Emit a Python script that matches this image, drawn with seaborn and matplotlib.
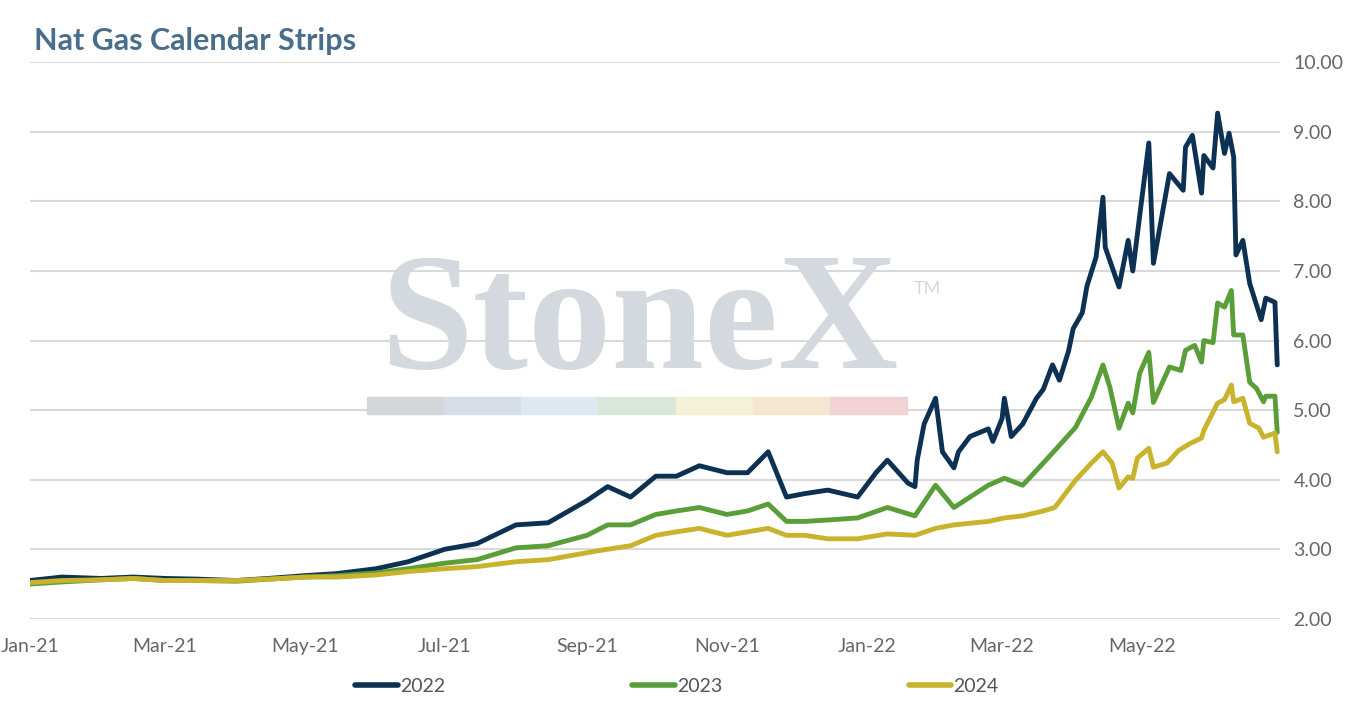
import pandas as pd
import seaborn as sb
import numpy as np
import matplotlib.pyplot as plt
import matplotlib.dates as mdates
from matplotlib.patches import Rectangle

start = pd.Timestamp("2021-01-01")

# days since 2021-01-01
days_2022 = [0, 14, 31, 45, 59, 73, 90, 104, 120, 134, 151, 165, 181, 195, 212, 226, 243, 252, 262,
             273, 282, 292, 304, 313, 322, 330, 338, 348, 361, 369, 374, 386, 383, 387, 390, 395, 398,
             403, 405, 410, 418, 420, 424, 425, 428, 433, 439, 442, 446, 449, 453, 455, 459, 461, 465,
             468, 469, 475, 479, 481, 488, 490, 497, 503, 504, 507, 511, 512, 516, 518, 521, 523, 525,
             526, 529, 532, 537, 539, 543, 544]
vals_2022 = [2.55, 2.60, 2.58, 2.60, 2.58, 2.57, 2.55, 2.58, 2.62, 2.65, 2.72, 2.82, 3.00, 3.08, 3.35,
             3.38, 3.70, 3.90, 3.75, 4.05, 4.05, 4.20, 4.10, 4.10, 4.40, 3.75, 3.80, 3.85, 3.75, 4.10,
             4.28, 3.90, 3.95, 4.28, 4.80, 5.17, 4.40, 4.17, 4.40, 4.62, 4.73, 4.55, 4.88, 5.17, 4.62,
             4.80, 5.17, 5.30, 5.65, 5.43, 5.85, 6.17, 6.40, 6.78, 7.20, 8.06, 7.34, 6.77, 7.44, 7.00,
             8.84, 7.11, 8.40, 8.16, 8.78, 8.95, 8.12, 8.66, 8.48, 9.27, 8.69, 8.98, 8.64, 7.23, 7.44,
             6.82, 6.30, 6.61, 6.55, 5.65]
days_2022, vals_2022 = zip(*sorted(zip(days_2022, vals_2022)))

days_2023 = [0, 14, 31, 45, 59, 73, 90, 104, 120, 134, 151, 165, 181, 195, 212, 226, 243, 252, 262,
             273, 282, 292, 304, 313, 322, 330, 338, 348, 361, 374, 386, 395, 403, 418, 425, 433, 442,
             447, 456, 463, 468, 471, 475, 479, 481, 484, 488, 490, 497, 502, 504, 508, 511, 512, 516,
             518, 521, 524, 525, 529, 532, 535, 538, 539, 543, 544]
vals_2023 = [2.50, 2.53, 2.56, 2.58, 2.55, 2.55, 2.54, 2.57, 2.60, 2.62, 2.66, 2.72, 2.80, 2.85, 3.02,
             3.05, 3.20, 3.35, 3.35, 3.50, 3.55, 3.60, 3.50, 3.55, 3.65, 3.40, 3.40, 3.42, 3.45, 3.60,
             3.48, 3.92, 3.60, 3.92, 4.02, 3.92, 4.24, 4.42, 4.75, 5.19, 5.65, 5.33, 4.74, 5.10, 4.96,
             5.53, 5.83, 5.11, 5.62, 5.57, 5.86, 5.93, 5.69, 6.00, 5.97, 6.54, 6.48, 6.72, 6.08, 6.08,
             5.40, 5.31, 5.12, 5.20, 5.20, 4.68]

days_2024 = [0, 14, 31, 45, 59, 73, 90, 104, 120, 134, 151, 165, 181, 195, 212, 226, 243, 252, 262,
             273, 282, 292, 304, 313, 322, 330, 338, 348, 361, 374, 386, 395, 403, 418, 425, 433, 442,
             447, 456, 463, 468, 472, 475, 479, 481, 483, 488, 490, 496, 501, 506, 511, 512, 518, 521,
             524, 525, 529, 532, 536, 538, 543, 544]
vals_2024 = [2.52, 2.55, 2.56, 2.58, 2.55, 2.55, 2.55, 2.57, 2.60, 2.60, 2.63, 2.68, 2.72, 2.75, 2.82,
             2.85, 2.95, 3.00, 3.05, 3.20, 3.25, 3.30, 3.20, 3.25, 3.30, 3.20, 3.20, 3.15, 3.15, 3.22,
             3.20, 3.30, 3.35, 3.40, 3.45, 3.48, 3.55, 3.60, 3.99, 4.24, 4.40, 4.24, 3.88, 4.04, 4.02,
             4.31, 4.45, 4.18, 4.24, 4.42, 4.52, 4.60, 4.71, 5.10, 5.15, 5.36, 5.12, 5.17, 4.81, 4.74,
             4.61, 4.67, 4.40]

colors = {"2022": "#0c3152", "2023": "#5a9e3a", "2024": "#c9b22c"}

frames = []
for name, d, v in [("2022", days_2022, vals_2022), ("2023", days_2023, vals_2023), ("2024", days_2024, vals_2024)]:
    frames.append(pd.DataFrame({"date": start + pd.to_timedelta(list(d), unit="D"), "price": v, "strip": name}))
df = pd.concat(frames)

sb.set_style("white")
plt.rcParams["font.family"] = ["Lato", "DejaVu Sans"]

fig = plt.figure(figsize=(13.54, 7.08), dpi=100)
ax = fig.add_axes([0.022, 0.126, 0.923, 0.786])

# watermark
fig.text(0.4725, 0.48, "StoneX", fontsize=120, family="Liberation Serif", fontweight="bold",
         color="#d3d9df", ha="center", va="baseline", zorder=0)
fig.text(0.675, 0.585, "TM", fontsize=13, color="#d3d9df", zorder=0)
bar_cols = ["#d3d7dc", "#d6dde6", "#dde8f0", "#d9e6da", "#f4f1d6", "#f6e6d0", "#f1d3d3"]
for i, c in enumerate(bar_cols):
    fig.patches.append(Rectangle((0.271 + i * 0.057, 0.415), 0.057, 0.024, transform=fig.transFigure,
                                 color=c, zorder=0))

sb.lineplot(data=df, x="date", y="price", hue="strip", palette=colors, linewidth=3.5, ax=ax, legend=False)
ax.patch.set_alpha(0)

ax.set_ylim(2, 10)
ax.set_xlim(start, start + pd.Timedelta(days=545))
ax.set_yticks(np.arange(2, 10.01, 1))
ax.set_yticklabels([f"{t:.2f}" for t in np.arange(2, 10.01, 1)])
ax.yaxis.tick_right()
ax.grid(axis="y", color="#d9d9d9", linewidth=1.5)
ax.xaxis.set_major_locator(mdates.MonthLocator(bymonth=[1, 3, 5, 7, 9, 11]))
ax.xaxis.set_major_formatter(mdates.DateFormatter("%b-%y"))
ax.tick_params(axis="both", labelsize=14, colors="#666666", length=0, pad=14)
ax.tick_params(axis="y", pad=10)
for s in ax.spines.values():
    s.set_visible(False)
ax.set_xlabel("")
ax.set_ylabel("")

handles = [plt.Line2D([], [], color=colors[k], linewidth=4) for k in colors]
fig.legend(handles, list(colors), loc="center", bbox_to_anchor=(0.5, 0.03), ncol=3, frameon=False,
           fontsize=14, columnspacing=9.6, handlelength=2.2, handletextpad=0.1, labelcolor="#555555")

fig.text(0.025, 0.93, "Nat Gas Calendar Strips", fontsize=22, fontweight="bold", color="#4a6e8a")

fig.savefig("out.png", dpi=100)
